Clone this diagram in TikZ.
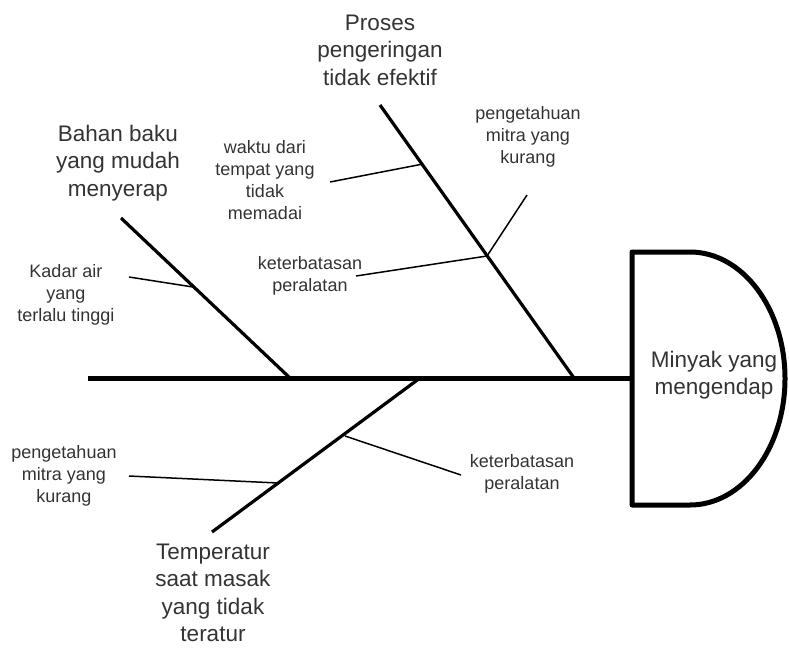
\documentclass[tikz,border=0pt]{standalone}
\usepackage{fontspec}
\setmainfont{Liberation Sans}
\begin{document}
\begin{tikzpicture}[x=1pt,y=-1pt,line join=round,
      spine/.style={line width=5pt},
      bone/.style={line width=3.2pt},
      rib/.style={line width=1.5pt},
      cause/.style={text=black!80,align=center,font=\fontsize{22.5}{27.5}\selectfont},
      sub/.style={text=black!80,align=center,font=\fontsize{18}{22}\selectfont}]
  \useasboundingbox (0,0) rectangle (789,648);
  % head of the fish
  \draw[line width=5pt] (632,252) -- (690,252)
      arc[start angle=90,end angle=-90,x radius=95pt,y radius=126.5pt]
      -- (632,505) -- cycle;
  \node[cause] (effect) at (714,375) {Minyak yang\\mengendap};
  % spine
  \coordinate (tail) at (88,378);
  \coordinate (neck) at (632,378);
  \draw[spine] (tail) -- (neck);
  % main causes
  \coordinate (j1) at (290,378);
  \coordinate (j2) at (574,378);
  \coordinate (j3) at (420,378);
  \coordinate (b1) at (121,218);
  \coordinate (b2) at (380,105);
  \coordinate (b3) at (212,532);
  \draw[bone] (j1) -- (b1);
  \draw[bone] (j2) -- (b2);
  \draw[bone] (j3) -- (b3);
  \node[cause] (bahan) at (118,163) {Bahan baku\\yang mudah\\menyerap};
  \node[cause] (proses) at (380,50) {Proses\\pengeringan\\tidak efektif};
  \node[cause] (temp) at (213,593) {Temperatur\\saat masak\\yang tidak\\teratur};
  % sub causes
  \coordinate (k1) at (193,287);
  \coordinate (k2) at (423,164);
  \coordinate (k3) at (487,256);
  \coordinate (k4) at (278,483);
  \coordinate (k5) at (345,436);
  \coordinate (r1) at (129,277);
  \coordinate (r2) at (330,182);
  \coordinate (r3) at (356,276);
  \coordinate (r4) at (527,195);
  \coordinate (r5) at (129,476);
  \coordinate (r6) at (461,475);
  \draw[rib] (r1) -- (k1);
  \draw[rib] (r2) -- (k2);
  \draw[rib] (r3) -- (k3);
  \draw[rib] (r4) -- (k3);
  \draw[rib] (r5) -- (k4);
  \draw[rib] (r6) -- (k5);
  \node[sub] (kadar) at (66,295) {Kadar air\\yang\\terlalu tinggi};
  \node[sub] (waktu) at (265,180) {waktu dari\\tempat yang\\tidak\\memadai};
  \node[sub] (alat1) at (310,276) {keterbatasan\\peralatan};
  \node[sub] (mitra1) at (528,137) {pengetahuan\\mitra yang\\kurang};
  \node[sub] (mitra2) at (64,476) {pengetahuan\\mitra yang\\kurang};
  \node[sub] (alat2) at (522,474) {keterbatasan\\peralatan};
\end{tikzpicture}
\end{document}
